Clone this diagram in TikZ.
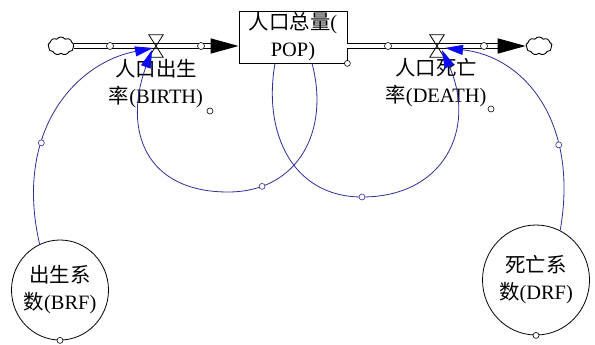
\documentclass[tikz,border=0pt]{standalone}
\usepackage{fontspec}
\setmainfont{Liberation Serif}
\newfontfamily\cjk{Noto Sans CJK SC}
\usetikzlibrary{arrows.meta,shapes.symbols,shapes.geometric}
\definecolor{azulenlace}{RGB}{45,45,150}
\definecolor{azulpunta}{RGB}{10,10,245}

\begin{document}
\begin{tikzpicture}[x=1bp,y=1bp,
    nube/.style={cloud, cloud puffs=9, cloud puff arc=110, draw, line width=0.9bp, minimum width=26bp, minimum height=18bp, inner sep=0pt},
    valvula/.style={minimum width=14bp, minimum height=22bp, inner sep=0pt},
    tubo/.style={double, double distance=3.4bp, line width=1.5bp},
    enlace/.style={draw=azulenlace, line width=0.8bp, -{Triangle[length=18bp,width=10bp,color=azulpunta]}},
    asa/.style={circle, draw, fill=white, inner sep=0pt, minimum size=6bp, line width=0.6bp},
    asaaz/.style={asa, draw=azulenlace},
    texto/.style={font=\fontsize{20.5}{27}\selectfont, align=center}]
  \useasboundingbox (0,0) rectangle (595,344);
  % flujo de poblacion
  \node[nube] (fuente) at (61,298) {};
  \node[valvula] (nac) at (156,298) {};
  \node[draw, line width=0.8bp, minimum width=108bp, minimum height=52bp, inner sep=1bp, texto] (pob) at (293,307) {{\cjk 人口总量}(\\POP)};
  \node[valvula] (mue) at (437,298) {};
  \node[nube] (sumidero) at (539,298) {};
  \draw[tubo, -{Triangle[length=28bp,width=15bp]}] (fuente.east) -- (fuente.east -| pob.west);
  \draw[tubo, -{Triangle[length=28bp,width=15bp]}] (pob.east |- sumidero.west) -- (sumidero.west);
  \foreach \v in {nac,mue}
    \draw[line width=0.8bp] (\v.north west) -- (\v.north east) -- (\v.south west) -- (\v.south east) -- cycle;
  \node[texto] (lnac) at (156,260) {{\cjk 人口出生}\\{\cjk 率}(BIRTH)};
  \node[texto] (lmue) at (436,261) {{\cjk 人口死亡}\\{\cjk 率}(DEATH)};
  % constantes
  \node[draw, ellipse, line width=0.8bp, minimum width=97bp, minimum height=100bp, inner sep=-14bp, texto] (brf) at (60,54) {{\cjk 出生系}\\{\cjk 数}(BRF)};
  \node[draw, ellipse, line width=0.8bp, minimum width=107bp, minimum height=110bp, inner sep=-14bp, texto] (drf) at (536,64) {{\cjk 死亡系}\\{\cjk 数}(DRF)};
  % enlaces
  \draw[enlace] (brf.114) .. controls +(103:115) and +(191:80) .. ([shift={(-3bp,-2bp)}]nac.center) node[asaaz, pos=0.35] (h9) {};
  \draw[enlace] ([xshift=19bp]pob.south) .. controls +(-75:70) and +(0:70) .. (228,152) node[asaaz, pos=0.82] (h10) {} .. controls +(180:83) and +(250:85) .. ([shift={(-4bp,-4bp)}]nac.center);
  \draw[enlace] ([xshift=-18bp]pob.south) .. controls +(-100:70) and +(180:70) .. (362,147) node[asaaz] (h11) {} .. controls +(0:83) and +(-66:85) .. ([shift={(5bp,-4bp)}]mue.center);
  \draw[enlace] (drf.64) .. controls +(80:110) and +(-6:80) .. ([shift={(8bp,-2bp)}]mue.center) node[asaaz, pos=0.3] (h12) {};
  % asas
  \foreach \x/\n in {110/1,201/2,388/3,484/4}
    \node[asa, minimum size=7bp] (h\n) at (\x,298) {};
  \node[asa] (h5) at (pob.south east) {};
  \node[asa] (h6) at (210,233) {};
  \node[asa] (h7) at (491,235) {};
  \node[asa] (h8) at (brf.south) {};
  \node[asa] (h13) at (drf.south) {};
\end{tikzpicture}
\end{document}
